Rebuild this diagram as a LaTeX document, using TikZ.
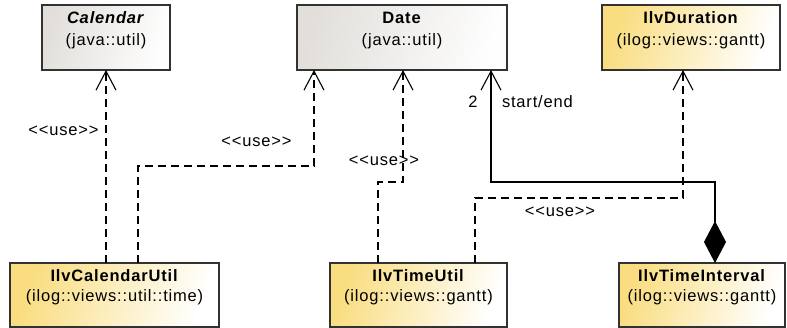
\documentclass[tikz,border=0pt]{standalone}
\usepackage{fontspec}
\setmainfont{Liberation Sans}[LetterSpace=5]
\usetikzlibrary{arrows.meta,calc}
\definecolor{ylw}{RGB}{249,221,128}
\definecolor{gry}{RGB}{226,223,219}
\definecolor{bord}{RGB}{50,50,50}
\begin{document}
\begin{tikzpicture}[x=1pt,y=-1pt,
  every node/.style={font=\fontsize{16.5}{20}\selectfont, inner sep=0pt, outer sep=0pt, text=black},
  graybox/.style={draw=bord, line width=1.6pt, left color=gry, right color=white!97!gry, shading angle=75},
  ylwbox/.style={draw=bord, line width=1.6pt, left color=ylw, right color=white, shading angle=70},
  txt/.style={anchor=base},
  dep/.style={line width=1.1pt, dash pattern=on 8pt off 5pt, -{Straight Barb[length=19pt,width=20pt,line width=1.1pt]}},
  comp/.style={line width=1.1pt, {Diamond[length=42pt,width=22pt]}-{Straight Barb[length=19pt,width=20pt,line width=1.1pt]}}
]
\useasboundingbox (0,0) rectangle (787,328);

% top boxes
\node[graybox, minimum width=128pt, minimum height=65pt] (cal) at (106,37.5) {};
\node[txt] (calT) at (106,23.5) {\textbf{\textit{Calendar}}};
\node[txt] (calS) at (106,45.5) {(java::util)};

\node[graybox, minimum width=210pt, minimum height=65pt] (date) at (402,37.5) {};
\node[txt] (dateT) at (402,23.5) {\textbf{Date}};
\node[txt] (dateS) at (402,45.5) {(java::util)};

\node[ylwbox, minimum width=178pt, minimum height=65pt] (dur) at (691,37.5) {};
\node[txt] (durT) at (691,23.5) {\textbf{IlvDuration}};
\node[txt] (durS) at (691,45.5) {(ilog::views::gantt)};

% bottom boxes
\node[ylwbox, minimum width=209pt, minimum height=64pt] (cu) at (114.5,295) {};
\node[txt] (cuT) at (114.5,281.5) {\textbf{IlvCalendarUtil}};
\node[txt] (cuS) at (114.5,302) {(ilog::views::util::time)};

\node[ylwbox, minimum width=177pt, minimum height=64pt] (tu) at (418.5,295) {};
\node[txt] (tuT) at (418.5,281.5) {\textbf{IlvTimeUtil}};
\node[txt] (tuS) at (418.5,302) {(ilog::views::gantt)};

\node[ylwbox, minimum width=166pt, minimum height=64pt] (ti) at (702,295) {};
\node[txt] (tiT) at (702,281.5) {\textbf{IlvTimeInterval}};
\node[txt] (tiS) at (702,302) {(ilog::views::gantt)};

% bend coordinates
\coordinate (b2) at (314,166);
\coordinate (b3) at (403,182);
\coordinate (b4) at (683,198);
\coordinate (b5) at (491,182);

% connectors
\draw[dep] (cu.north -| cal.south) -- (cal.south);
\draw[dep] ([xshift=23.5pt]cu.north) |- (b2) -- (b2 |- date.south);
\draw[dep] ([xshift=-40.5pt]tu.north) |- (b3) -- (b3 |- date.south);
\draw[dep] ([xshift=56.5pt]tu.north) |- (b4) -- (b4 |- dur.south);
\draw[comp] ([xshift=13pt]ti.north) |- (b5) -- (b5 |- date.south);

% labels
\node[txt] (l1) at (63.5,136) {<{}<use>{}>};
\node[txt] (l2) at (256.5,146.5) {<{}<use>{}>};
\node[txt] (l3) at (384,165.5) {<{}<use>{}>};
\node[txt] (l4) at (560,216.5) {<{}<use>{}>};
\node[txt] (m1) at (473,107.5) {2};
\node[anchor=base west] (m2) at (502,107.5) {start/end};
\end{tikzpicture}
\end{document}
